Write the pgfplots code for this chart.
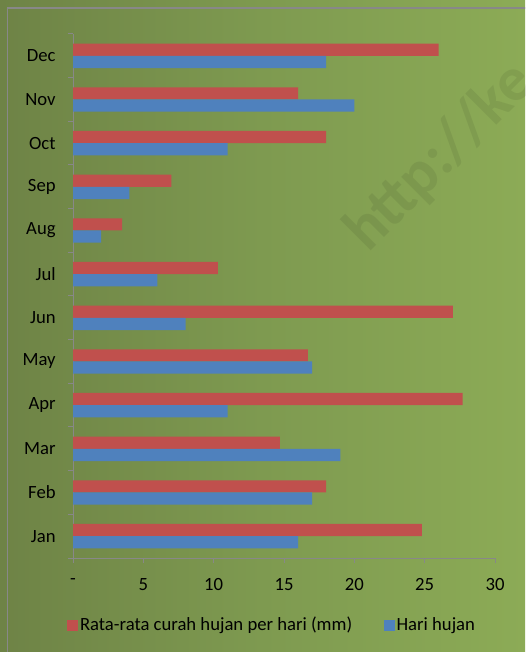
\documentclass[border=0pt]{standalone}
\usepackage{pgfplots}
\pgfplotsset{compat=1.18}
\usepackage{fontspec}
\setmainfont{Carlito}
\definecolor{bgL}{HTML}{6E8346}
\definecolor{bgM}{HTML}{7E9A50}
\definecolor{bgR}{HTML}{8CAB56}
\definecolor{barred}{HTML}{C0504D}
\definecolor{barblue}{HTML}{4F81BD}
\definecolor{axgray}{HTML}{888888}
\begin{document}
\begin{tikzpicture}[x=0.75pt,y=0.75pt]
\clip (0,0) rectangle (525,652);
\shade[left color=bgL,right color=bgR,middle color=bgM] (0,0) rectangle (525,652);
\draw[axgray,line width=1.2pt] (7.5,-10) -- (7.5,644) -- (540,644);
\node[rotate=45, opacity=0.07, text=black, font=\bfseries\fontsize{47}{52}\selectfont, anchor=base west, inner sep=0pt] at (368,398) {http://ke};
\begin{axis}[
  at={(54.75pt,70.5pt)}, anchor=south west,
  scale only axis, width=316.5pt, height=393pt,
  xmin=0, xmax=30, ymin=-0.5, ymax=11.5,
  axis lines*=left,
  axis line style={axgray, line width=0.75pt},
  xbar,
  xtick={0,5,...,30}, xticklabels={-,5,10,15,20,25,30},
  ytick={0,...,11}, yticklabels={Jan,Feb,Mar,Apr,May,Jun,Jul,Aug,Sep,Oct,Nov,Dec},
  minor ytick={-0.5,0.5,...,11.5},
  tick align=outside,
  major tick length=3.75pt, minor tick length=3.75pt,
  x tick style={axgray, line width=0.75pt},
  major y tick style={draw=none},
  minor y tick style={axgray, line width=0.75pt},
  tick label style={font=\fontsize{14}{16}\selectfont, text=black},
  xticklabel style={yshift=-8pt},
  yticklabel style={xshift=-5.75pt},
  legend style={at={(0.4716,-0.128)}, anchor=center, draw=none, fill=none,
    legend columns=2, font=\fontsize{14}{16}\selectfont,
    /tikz/every even column/.append style={column sep=22pt},
    nodes={inner xsep=1.5pt}},
  legend image code/.code={\fill[#1] (0pt,-4.1pt) rectangle (8.25pt,4.1pt);},
]
\addplot[fill=barred, draw=none, bar width=0.28, bar shift=0.14] coordinates {
(24.8,0) (18.0,1) (14.7,2) (27.7,3) (16.7,4) (27.0,5) (10.3,6) (3.5,7) (7.0,8) (18.0,9) (16.0,10) (26.0,11)};
\addlegendentry{Rata-rata curah hujan per hari (mm)}
\addplot[fill=barblue, draw=none, bar width=0.28, bar shift=-0.14] coordinates {
(16,0) (17,1) (19,2) (11,3) (17,4) (8,5) (6,6) (2,7) (4,8) (11,9) (20,10) (18,11)};
\addlegendentry{Hari hujan}
\end{axis}
\end{tikzpicture}
\end{document}
